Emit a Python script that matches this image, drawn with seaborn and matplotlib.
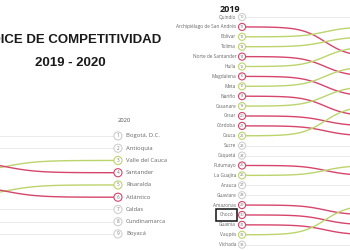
import matplotlib
matplotlib.use("Agg")
import matplotlib.pyplot as plt
import numpy as np
import pandas as pd
import seaborn as sns

# Panel izquierdo: final del gráfico (columna 2020)
izq_nombres = ["Bogotá, D.C.", "Antioquia", "Valle del Cauca", "Santander",
               "Risaralda", "Atlántico", "Caldas", "Cundinamarca", "Boyacá"]
izq_2020 = [1, 2, 3, 4, 5, 6, 7, 8, 9]
izq_2019 = [1, 2, 4, 3, 6, 5, 7, 8, 9]

# Panel derecho: inicio del gráfico (columna 2019)
der_nombres = ["Quindío", "Archipiélago de San Andrés", "Bolívar", "Tolima",
               "Norte de Santander", "Huila", "Magdalena", "Meta", "Nariño",
               "Casanare", "Cesar", "Córdoba", "Cauca", "Sucre", "Caquetá",
               "Putumayo", "La Guajira", "Arauca", "Guaviare", "Amazonas",
               "Chocó", "Guainía", "Vaupés", "Vichada"]
der_2019 = [10, 11, 12, 13, 14, 15, 16, 17, 18, 19, 20, 21,
            22, 23, 24, 25, 26, 27, 28, 29, 30, 31, 32, 33]
der_2020 = [10, 14, 11, 12, 16, 13, 18, 15, 20, 17, 21, 22,
            19, 23, 24, 26, 25, 27, 28, 30, 31, 32, 29, 33]

VERDE = "#bcd46c"
ROJO = "#d6456b"
GRIS = "#e6e6e6"
PAL = {"sube": VERDE, "baja": ROJO, "igual": GRIS}
BORDE = {"sube": VERDE, "baja": ROJO, "igual": "#cfcfcf"}


def cambio(a, b):
    if b < a:
        return "sube"
    if b > a:
        return "baja"
    return "igual"


def curva(r0, r1, t, k=7.0):
    s = 0.5 + 0.5 * np.tanh(k * (t - 0.5)) / np.tanh(k / 2)
    return r0 + (r1 - r0) * s


def tabla(nombres, r19, r20, t):
    filas = []
    for n, a, b in zip(nombres, r19, r20):
        c = cambio(a, b)
        for ti, yi in zip(t, curva(a, b, t)):
            filas.append({"nombre": n, "t": ti, "y": yi, "cambio": c})
    return pd.DataFrame(filas)


def lineas(ax, df):
    g = df[df["cambio"] == "igual"]
    if len(g):
        sns.lineplot(data=g, x="t", y="y", units="nombre", estimator=None,
                     color=GRIS, linewidth=0.6, sort=False, legend=False, ax=ax)
    c = df[df["cambio"] != "igual"]
    sns.lineplot(data=c, x="t", y="y", hue="cambio", units="nombre",
                 estimator=None, palette=PAL, linewidth=1.0, sort=False,
                 legend=False, ax=ax)


sns.set_style("white")
plt.rcParams["font.family"] = ["Open Sans", "DejaVu Sans"]

fig = plt.figure(figsize=(3.5, 2.5), dpi=100)

# ---- izquierda
ax = fig.add_axes([0, 0, 200 / 350, 1])
t = np.linspace(0.3, 1.0, 120)
lineas(ax, tabla(izq_nombres, izq_2019, izq_2020, t))
cols = [cambio(a, b) for a, b in zip(izq_2019, izq_2020)]
ax.scatter([1.0] * len(izq_2020), izq_2020, s=34, facecolors="white",
           edgecolors=[BORDE[c] for c in cols], linewidths=0.8, zorder=5)
for n, r in zip(izq_nombres, izq_2020):
    ax.text(1.0, r, str(r), ha="center", va="center", fontsize=3.3,
            color="#777777", zorder=6)
    ax.text(1.035, r, n, ha="left", va="center", fontsize=4.2,
            color="#666666")
ax.text(1.0, -0.25, "2020", ha="left", va="center", fontsize=4.2,
        color="#555555")
ax.set_xlim(0.478, 1.363)
ax.set_ylim(10.31, -10.1)
ax.axis("off")

fig.text(0.2, 0.84, "ÍNDICE DE COMPETITIVIDAD", ha="center", va="center",
         fontsize=9.5, fontweight="bold", family="Liberation Sans",
         color="#1a1a1a")
fig.text(0.2, 0.748, "2019 - 2020", ha="center", va="center",
         fontsize=9.5, fontweight="bold", family="Liberation Sans",
         color="#1a1a1a")

# ---- derecha
ax2 = fig.add_axes([200 / 350, 0, 150 / 350, 1])
ax2.set_facecolor("white")
t2 = np.linspace(0.0, 0.7, 120)
lineas(ax2, tabla(der_nombres, der_2019, der_2020, t2))
cols2 = [cambio(a, b) for a, b in zip(der_2019, der_2020)]
ax2.scatter([0.0] * len(der_2019), der_2019, s=26, facecolors="white",
            edgecolors=[BORDE[c] for c in cols2], linewidths=0.8, zorder=5)
for n, r in zip(der_nombres, der_2019):
    ax2.text(0.0, r, str(r), ha="center", va="center", fontsize=2.8,
             color="#777777", zorder=6)
    caja = None
    x_lab = -0.036
    if n == "Chocó":
        caja = dict(boxstyle="square,pad=0.75", fc="none", ec="#111111",
                    lw=1.1)
        x_lab = -0.05
    ax2.text(x_lab, r, n, ha="right", va="center", fontsize=3.4,
             color="#666666", bbox=caja, clip_on=False)
ax2.text(-0.132, 9.19, "2019", ha="left", va="center", fontsize=6.5,
         fontweight="bold", color="#1a1a1a")
ax2.set_xlim(-0.253, 0.65)
ax2.set_ylim(33.54, 8.28)
ax2.axis("off")

fig.savefig("out.png", dpi=100, facecolor="white")
